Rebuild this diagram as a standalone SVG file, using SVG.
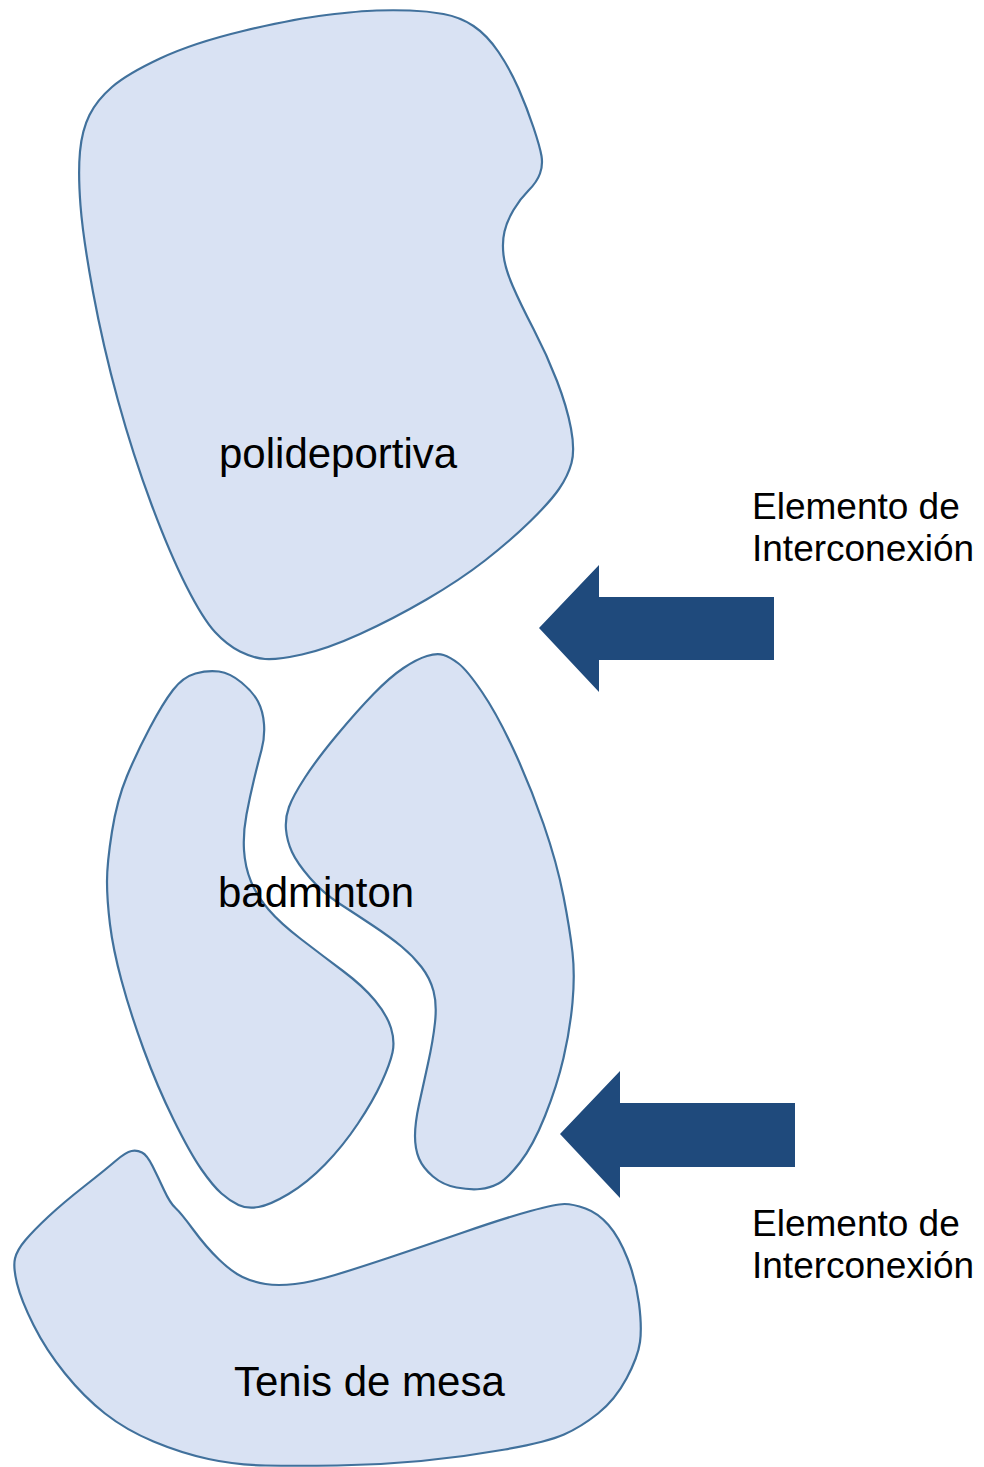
<svg xmlns="http://www.w3.org/2000/svg" width="984" height="1467" viewBox="0 0 984 1467">
<style>
.blob{fill:#D9E2F3;stroke:#41719C;stroke-width:2.2;stroke-linejoin:round}
.arrow{fill:#1F4A7C}
.lbl{font-family:"Liberation Sans",Arial,sans-serif;fill:#000}
.big{font-size:42px}
.small{font-size:37px}
</style>
<rect width="984" height="1467" fill="#fff"/>
<g id="polideportiva">
<path class="blob" d="M376.5,10.5 Q393,10 410,10.5 Q427,11 443.5,14 Q460,17 473.5,26 Q487,35 498.5,52 Q510,69 518.5,88.5 Q527,108 533.5,127.5 Q540,147 541.5,156 Q543,165 540,173.5 Q537,182 528.5,190.5 Q520,199 513.5,210 Q507,221 504.5,231.5 Q502,242 503.5,255 Q505,268 512.5,285.5 Q520,303 533.5,329 Q547,355 557,381 Q567,407 571,428.5 Q575,450 571.5,463 Q568,476 559,489 Q550,502 530,521.5 Q510,541 485,560.5 Q460,580 426.5,599.5 Q393,619 360,634 Q327,649 302,654.5 Q277,660 265,659 Q253,658 240,651.5 Q227,645 215,632 Q203,619 186.5,586.5 Q170,554 151.5,504.5 Q133,455 118,400.5 Q103,346 93,292 Q83,238 80.5,205.5 Q78,173 80,151.5 Q82,130 89.5,115 Q97,100 112,87 Q127,74 160,58.5 Q193,43 243,31 Q293,19 326.5,15 Q360,11 376.5,10.5 Z"/>
<text class="lbl big" x="219" y="468">polideportiva</text>
</g>
<g id="badminton">
<path class="blob" d="M195.5,673.5 Q208,670 219,671.5 Q230,673 241.5,682.5 Q253,692 258,701.5 Q263,711 264,724 Q265,737 261.5,750 Q258,763 254,779.5 Q250,796 246.5,814.5 Q243,833 244,850 Q245,867 251,881.5 Q257,896 268.5,909.5 Q280,923 301.5,939.5 Q323,956 343,971 Q363,986 375,1000.5 Q387,1015 391,1028 Q395,1041 392.5,1052.5 Q390,1064 381.5,1082.5 Q373,1101 358,1123.5 Q343,1146 325,1164.5 Q307,1183 288.5,1194 Q270,1205 258.5,1207 Q247,1209 238.5,1205 Q230,1201 221.5,1193.5 Q213,1186 201.5,1169.5 Q190,1153 173.5,1119.5 Q157,1086 143.5,1049 Q130,1012 121.5,980.5 Q113,949 110,924.5 Q107,900 107,881.5 Q107,863 112,831.5 Q117,800 127,776 Q137,752 150,727.5 Q163,703 173,690 Q183,677 195.5,673.5 Z"/>
<path class="blob" d="M427,656 Q437,653 443.5,655 Q450,657 458.5,663.5 Q467,670 482,692 Q497,714 513.5,749.5 Q530,785 543.5,824 Q557,863 563.5,896.5 Q570,930 572.5,952.5 Q575,975 572.5,1002.5 Q570,1030 563.5,1058 Q557,1086 545,1116 Q533,1146 520,1162.5 Q507,1179 498.5,1183.5 Q490,1188 480,1189 Q470,1190 456.5,1187.5 Q443,1185 433,1176.5 Q423,1168 419,1158.5 Q415,1149 415,1136 Q415,1123 419,1104.5 Q423,1086 428,1063.5 Q433,1041 435,1022.5 Q437,1004 433.5,991 Q430,978 421.5,967 Q413,956 401.5,946.5 Q390,937 373.5,926 Q357,915 340,904 Q323,893 310,878 Q297,863 292,852 Q287,841 286,829.5 Q285,818 289,807 Q293,796 305,777.5 Q317,759 337,735 Q357,711 373.5,694 Q390,677 403.5,668 Q417,659 427,656 Z"/>
<text class="lbl big" x="218" y="907">badminton</text>
</g>
<g id="tenis-de-mesa">
<path class="blob" d="M131.5,1151 Q137,1150 142,1152.5 Q147,1155 152.5,1166 Q158,1177 164,1190 Q170,1203 175.5,1208 Q181,1213 193.5,1230 Q206,1247 219,1259.5 Q232,1272 242.5,1277 Q253,1282 265.5,1284 Q278,1286 295,1284 Q312,1282 335,1275 Q358,1268 389.5,1257.5 Q421,1247 463,1232.5 Q505,1218 530.5,1211 Q556,1204 564.5,1204 Q573,1204 585.5,1208.5 Q598,1213 608.5,1225 Q619,1237 627.5,1258.5 Q636,1280 639,1303.5 Q642,1327 640,1342 Q638,1357 626.5,1378.5 Q615,1400 598,1413.5 Q581,1427 564,1434.5 Q547,1442 505,1449.5 Q463,1457 421,1461 Q379,1465 337,1465.5 Q295,1466 265.5,1465.5 Q236,1465 208.5,1459 Q181,1453 153.5,1441.5 Q126,1430 105,1413.5 Q84,1397 65,1373.5 Q46,1350 33.5,1325 Q21,1300 17,1283.5 Q13,1267 15,1258.5 Q17,1250 25.5,1240 Q34,1230 48.5,1216.5 Q63,1203 84,1186.5 Q105,1170 115.5,1161 Q126,1152 131.5,1151 Z"/>
<text class="lbl big" x="234" y="1396">Tenis de mesa</text>
</g>
<g id="connectors">
<polygon class="arrow" points="539,628 599,565 599,597 774,597 774,660 599,660 599,692"/>
<polygon class="arrow" points="560,1134 620,1071 620,1103 795,1103 795,1167 620,1167 620,1198"/>
</g>
<g id="label-1">
<text class="lbl small" x="752" y="519">Elemento de</text>
<text class="lbl small" x="752" y="561">Interconexión</text>
</g>
<g id="label-2">
<text class="lbl small" x="752" y="1236">Elemento de</text>
<text class="lbl small" x="752" y="1278">Interconexión</text>
</g>
</svg>
